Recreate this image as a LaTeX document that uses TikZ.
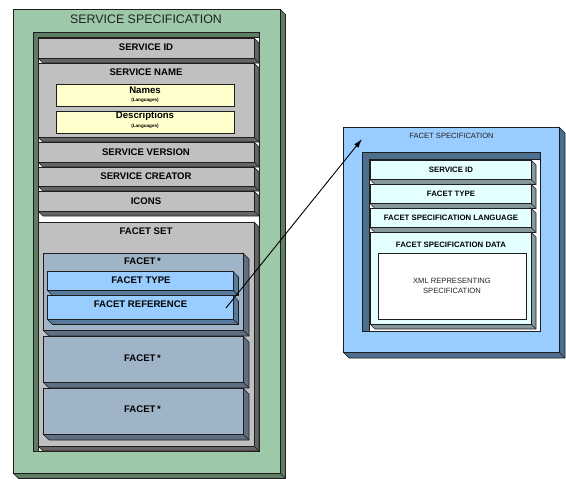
\documentclass[tikz,border=0pt]{standalone}
\usepackage{fontspec}
\setmainfont{Liberation Sans}
\usetikzlibrary{arrows.meta}

\definecolor{edge}{HTML}{1E1E1E}
\definecolor{greenface}{HTML}{9DC9A8}
\definecolor{greenside}{HTML}{5E7D65}
\definecolor{greyface}{HTML}{C0C0C0}
\definecolor{greyside}{HTML}{656565}
\definecolor{noteface}{HTML}{FFFFCC}
\definecolor{facetface}{HTML}{A0B4C8}
\definecolor{facetside}{HTML}{5F6F7F}
\definecolor{blueface}{HTML}{99CCFF}
\definecolor{blueside}{HTML}{577A9C}
\definecolor{specside}{HTML}{4E6E8E}
\definecolor{cyanface}{HTML}{E4FFFF}
\definecolor{cyanside}{HTML}{87999A}
\definecolor{inktext}{HTML}{222222}

\tikzset{
  boxface/.style={draw=edge, line width=0.7pt, rectangle, inner sep=0pt, outer sep=0pt},
  lab/.style={font=\bfseries\fontsize{9.6}{10}\selectfont, inner sep=0pt, text=black},
  smalllab/.style={font=\bfseries\fontsize{7.8}{9}\selectfont, inner sep=0pt, text=black},
  tinylab/.style={font=\bfseries\fontsize{4.6}{5}\selectfont, inner sep=0pt, text=black},
  titlelab/.style={font=\fontsize{12.4}{14}\selectfont, inner sep=0pt, text=inktext},
  plainlab/.style={font=\fontsize{7.6}{9.4}\selectfont, inner sep=0pt, text=inktext, align=center},
  link/.style={draw=black, line width=0.9pt, -{Latex[length=9pt,width=5.5pt]}}
}

% raised box: name, x, y, width, height, depth, face colour, side colour
\newcommand\raisedbox[8]{%
  \fill[#8, draw=edge, line width=0.7pt, line join=round]
    ({#2+#4},{#3}) -- ({#2+#4+#6},{#3+#6}) -- ({#2+#4+#6},{#3+#5+#6})
    -- ({#2+#6},{#3+#5+#6}) -- ({#2},{#3+#5}) -- cycle;
  \draw[edge, line width=0.5pt] ({#2+#4},{#3+#5}) -- ({#2+#4+#6},{#3+#5+#6});
  \node[boxface, fill=#7, minimum width=#4pt, minimum height=#5pt,
        anchor=north west] (#1) at (#2,#3) {};%
}
% sunken frame: name, x, y, width, height, band, band colour
\newcommand\sunkenframe[7]{%
  \node[boxface, fill=white, minimum width=#4pt, minimum height=#5pt,
        anchor=north west] (#1) at (#2,#3) {};
  \fill[#7, draw=edge, line width=0.7pt, line join=round]
    (#2,#3) -- ({#2+#4},{#3}) -- ({#2+#4},{#3+#6}) -- ({#2+#6},{#3+#6})
    -- ({#2+#6},{#3+#5}) -- (#2,{#3+#5}) -- cycle;%
}

\begin{document}
\begin{tikzpicture}[x=1pt, y=-1pt]
  \useasboundingbox (0,0) rectangle (566,479);
  \fill[white] (0,0) rectangle (566,479);

  % ---------- service specification ----------
  \raisedbox{svcspec}{13}{9}{267}{464}{5.5}{greenface}{greenside}
  \node[titlelab] (svcspecL) at (146,19.5) {SERVICE SPECIFICATION};
  \sunkenframe{svcframe}{33}{32}{226}{419}{5}{greenside}

  \raisedbox{sid}{38}{38}{216}{20}{5}{greyface}{greyside}
  \raisedbox{sname}{38}{63}{216}{74}{5}{greyface}{greyside}
  \raisedbox{sver}{38}{142}{216}{20}{5}{greyface}{greyside}
  \raisedbox{screat}{38}{167}{216}{19}{5}{greyface}{greyside}
  \raisedbox{icons}{38}{191}{216}{20}{5}{greyface}{greyside}
  \raisedbox{fset}{38}{222}{216}{224}{5}{greyface}{greyside}

  \node[lab] (sidL) at (146,47) {SERVICE ID};
  \node[lab] (snameL) at (146,72.5) {SERVICE NAME};
  \node[lab] (sverL) at (146,152.5) {SERVICE VERSION};
  \node[lab] (screatL) at (146,176.5) {SERVICE CREATOR};
  \node[lab] (iconsL) at (146,201) {ICONS};
  \node[lab] (fsetL) at (146,231.5) {FACET SET};

  % name and description notes
  \node[boxface, line width=0.6pt, fill=noteface, minimum width=178pt, minimum height=22pt,
        anchor=north west] (names) at (56,84) {};
  \node[boxface, line width=0.6pt, fill=noteface, minimum width=178pt, minimum height=22pt,
        anchor=north west] (descs) at (56,111) {};
  \node[lab] (namesL) at (145,90.5) {Names};
  \node[tinylab] (namesS) at (145,100) {(Languages)};
  \node[lab] (descsL) at (145,116.5) {Descriptions};
  \node[tinylab] (descsS) at (145,126.5) {(Languages)};

  % facets
  \raisedbox{facetA}{43}{253}{200}{77}{6}{facetface}{facetside}
  \raisedbox{facetB}{43}{336}{200}{46}{6}{facetface}{facetside}
  \raisedbox{facetC}{43}{388}{200}{46}{6}{facetface}{facetside}
  \node[lab] (facetAL) at (142.5,261.5) {FACET\,*};
  \node[lab] (facetBL) at (142.5,358.5) {FACET\,*};
  \node[lab] (facetCL) at (142.5,409.5) {FACET\,*};

  \raisedbox{ftype}{47}{271.5}{186}{18.5}{5.5}{blueface}{blueside}
  \raisedbox{fref}{47}{295.5}{186}{23.5}{5.5}{blueface}{blueside}
  \node[lab] (ftypeL) at (141,280.5) {FACET TYPE};
  \node[lab] (frefL) at (140.5,304.5) {FACET REFERENCE};

  % ---------- facet specification ----------
  \raisedbox{fspec}{343}{127}{216}{225}{6}{blueface}{specside}
  \node[plainlab] (fspecL) at (451.5,135.5) {FACET SPECIFICATION};
  \sunkenframe{fspecframe}{362}{152}{178}{179}{7}{specside}

  \raisedbox{rsid}{370}{160}{161}{19.5}{5}{cyanface}{cyanside}
  \raisedbox{rtype}{370}{184}{161}{19.5}{5}{cyanface}{cyanside}
  \raisedbox{rlang}{370}{208}{161}{19.5}{5}{cyanface}{cyanside}
  \raisedbox{rdata}{370}{232}{161}{92}{5}{cyanface}{cyanside}
  \node[smalllab] (rsidL) at (451,170) {SERVICE ID};
  \node[smalllab] (rtypeL) at (451,193.5) {FACET TYPE};
  \node[smalllab] (rlangL) at (451,218) {FACET SPECIFICATION LANGUAGE};
  \node[smalllab] (rdataL) at (451,244.5) {FACET SPECIFICATION DATA};

  \node[boxface, line width=0.6pt, fill=white, minimum width=148pt, minimum height=66pt,
        anchor=north west] (xmlbox) at (378,253) {};
  \node[plainlab] (xmlL) at (xmlbox.center) {XML REPRESENTING\\SPECIFICATION};

  % reference from the facet to its specification
  \coordinate (refstart) at (226,308);
  \coordinate (refend) at (362,139);
  \draw[link] (refstart) -- (refend);
\end{tikzpicture}
\end{document}
